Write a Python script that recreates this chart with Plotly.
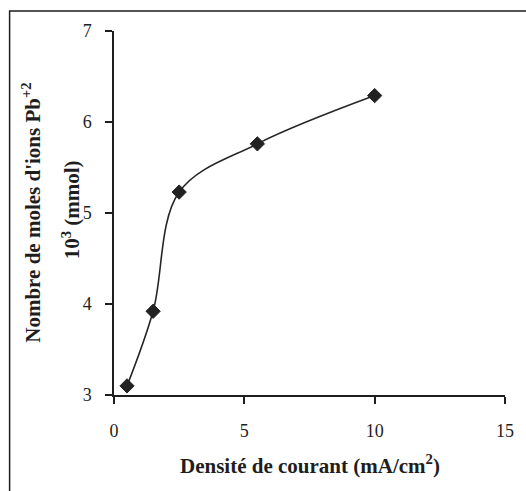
import plotly.graph_objects as go

# Current density (mA/cm2) and moles of Pb2+ ions (x 10^3 mmol)
densite = [0.5, 1.5, 2.5, 5.5, 10]
moles_pb = [3.10, 3.92, 5.23, 5.76, 6.29]

x_ticks = [0, 5, 10, 15]
y_ticks = [3, 4, 5, 6, 7]

serif = "Liberation Serif, Times New Roman, serif"
ink = "#1e1e1e"

fig = go.Figure()
fig.add_trace(go.Scatter(
    x=densite, y=moles_pb,
    mode="lines+markers",
    line=dict(color="#262626", width=1.6, shape="spline", smoothing=1.0),
    marker=dict(symbol="diamond", size=11, color="#222222",
                line=dict(color="#222222", width=1)),
    showlegend=False,
))

axis_common = dict(
    showgrid=False, zeroline=False, showline=True,
    linecolor=ink, linewidth=1.5,
    ticks="outside", ticklen=7, tickwidth=1.5, tickcolor=ink,
    tickfont=dict(family=serif, size=18, color=ink),
)

fig.update_xaxes(range=[0, 15], tickvals=x_ticks, ticktext=[str(v) for v in x_ticks],
                 ticklabelstandoff=12, **axis_common)
fig.update_yaxes(range=[3, 7], tickvals=y_ticks, ticktext=[str(v) for v in y_ticks],
                 ticklabelstandoff=10, **axis_common)

# Axis titles
fig.add_annotation(
    text="<b>Densité de courant (mA/cm<sup>2</sup>)</b>",
    xref="paper", yref="paper", x=0.5, y=-0.19, xanchor="center", yanchor="middle",
    showarrow=False, font=dict(family=serif, size=21, color=ink),
)
fig.add_annotation(
    text="<b>Nombre de moles d'ions Pb<sup>+2</sup></b>",
    xref="paper", yref="paper", x=-0.213, y=0.50, xanchor="center", yanchor="middle",
    textangle=-90, showarrow=False, font=dict(family=serif, size=21, color=ink),
)
fig.add_annotation(
    text="<b>10<sup>3</sup> (mmol)</b>",
    xref="paper", yref="paper", x=-0.11, y=0.51, xanchor="center", yanchor="middle",
    textangle=-90, showarrow=False, font=dict(family=serif, size=21, color=ink),
)

# Figure frame (only the left and top edges fall inside the page)
fig.add_shape(type="rect", xref="paper", yref="paper",
              x0=-0.267, y0=-0.4, x1=1.2, y1=1.055,
              line=dict(color=ink, width=1.5), fillcolor="rgba(0,0,0,0)", layer="below")

fig.update_layout(
    width=526, height=491,
    margin=dict(l=114, r=15, t=31, b=96),
    paper_bgcolor="white", plot_bgcolor="white",
)

fig.write_html("out.html")
